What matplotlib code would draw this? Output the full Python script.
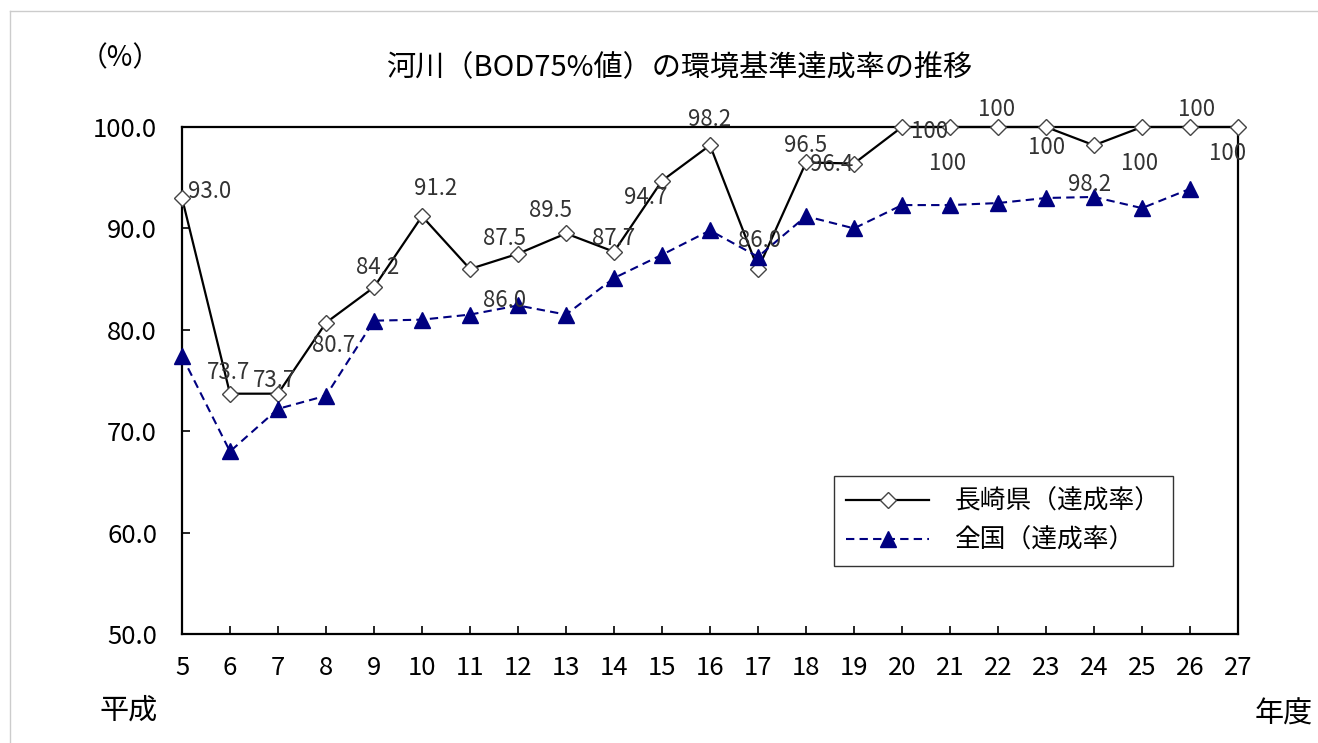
import matplotlib
matplotlib.use("Agg")
import matplotlib.pyplot as plt
from matplotlib.lines import Line2D

plt.rcParams['font.family'] = ['Noto Sans CJK JP', 'DejaVu Sans']

# 年度（平成）
years = list(range(5, 28))
# 長崎県（達成率）
nagasaki = [93.0, 73.7, 73.7, 80.7, 84.2, 91.2, 86.0, 87.5, 89.5, 87.7, 94.7, 98.2,
            86.0, 96.5, 96.4, 100, 100, 100, 100, 98.2, 100, 100, 100]
# 全国（達成率）  H5-H26
national_years = list(range(5, 27))
national = [77.4, 68.0, 72.2, 73.5, 80.9, 81.0, 81.5, 82.4, 81.5, 85.1, 87.4, 89.8,
            87.2, 91.2, 90.0, 92.3, 92.3, 92.5, 93.0, 93.1, 92.0, 93.9]
yticks = [50, 60, 70, 80, 90, 100]

# label offsets (pixels, x right / y up) as in the original sheet
label_offsets = [(28, 6), (-2, 21), (-3, 13), (8, -23), (4, 20), (14, 28), (35, -32),
                 (-13, 15), (-15, 23), (0, 13), (-16, -17), (0, 26), (2, 28), (0, 17),
                 (-22, -1), (28, -5), (-2, -36), (-1, 17), (1, -21), (-4, -39),
                 (-2, -36), (7, 17), (-10, -26)]

fig = plt.figure(figsize=(13.18, 7.43), dpi=100)
ax = fig.add_axes([182 / 1318, 109 / 743, 1056 / 1318, 507 / 743])

ax.plot(years, nagasaki, color='black', lw=1.6, marker='D', markersize=8.5,
        markerfacecolor='white', markeredgecolor='#444444', markeredgewidth=1.0,
        label='長崎県（達成率）', clip_on=False, zorder=3)
ax.plot(national_years, national, color='#000080', lw=1.5, ls=(0, (4, 2.5)),
        marker='^', markersize=11, markerfacecolor='#000080',
        markeredgecolor='#000080', label='全国（達成率）', clip_on=False, zorder=4)

for x, v, (dx, dy) in zip(years, nagasaki, label_offsets):
    txt = '100' if v == 100 else f'{v:.1f}'
    ax.annotate(txt, (x, v), xytext=(dx * 0.72, dy * 0.72), textcoords='offset points',
                ha='center', va='center', fontsize=16, color='#333333', zorder=5,
                annotation_clip=False)

ax.set_xlim(5, 27)
ax.set_ylim(50, 100)
ax.set_xticks(years)
ax.set_xticklabels([str(y) for y in years])
ax.set_yticks(yticks)
ax.set_yticklabels([f'{v:.1f}' for v in yticks])
ax.tick_params(axis='both', direction='in', length=6, width=1.2, labelsize=18.5)
ax.tick_params(axis='y', pad=18)
ax.tick_params(axis='x', pad=15)
for sp in ax.spines.values():
    sp.set_linewidth(1.6)

leg = ax.legend(loc='upper left', bbox_to_anchor=(0.617, 0.312), fontsize=18.5,
                frameon=True, fancybox=False, edgecolor='black', handlelength=3.2,
                handletextpad=1.0, borderpad=0.5, labelspacing=0.5, borderaxespad=0)
leg.get_frame().set_linewidth(1.0)

fig.text(679 / 1318, 1 - 68 / 743, '河川（BOD75%値）の環境基準達成率の推移',
         ha='center', va='center', fontsize=21)
fig.text(120 / 1318, 1 - 58 / 743, '（%）', ha='center', va='center', fontsize=20)
fig.text(129 / 1318, 1 - 711 / 743, '平成', ha='center', va='center', fontsize=21)
fig.text(1284 / 1318, 1 - 715 / 743, '年度', ha='center', va='center', fontsize=21)

# light frame around the chart area
fig.add_artist(Line2D([10 / 1318, 10 / 1318], [0, 1 - 11 / 743], transform=fig.transFigure,
                      color='#cccccc', lw=1))
fig.add_artist(Line2D([10 / 1318, 1], [1 - 11 / 743, 1 - 11 / 743], transform=fig.transFigure,
                      color='#cccccc', lw=1))

fig.savefig('out.png', dpi=100)
